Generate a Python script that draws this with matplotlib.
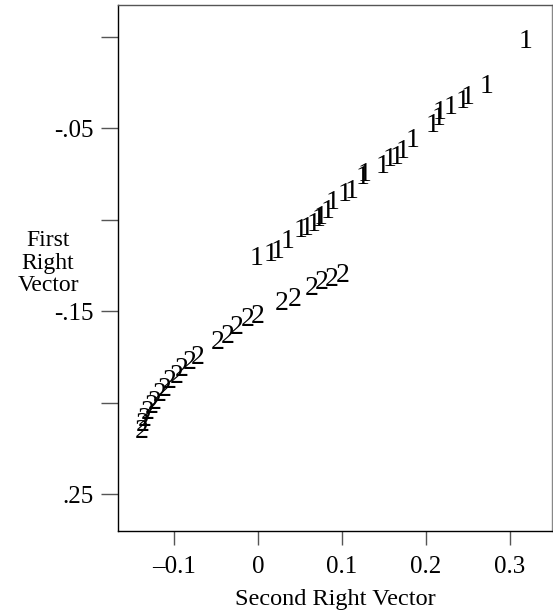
import matplotlib
matplotlib.use("Agg")
import matplotlib.pyplot as plt

plt.rcParams['font.family'] = ['Liberation Serif', 'DejaVu Serif']

# Group 1 points (Second Right Vector, First Right Vector)
g1_x = [-0.0012, 0.0155, 0.0238, 0.0357, 0.0512, 0.0583, 0.0667, 0.0726, 0.0750,
        0.0833, 0.0893, 0.1036, 0.1119, 0.1250, 0.1274, 0.1488, 0.1571, 0.1655,
        0.1726, 0.1845, 0.2083, 0.2155, 0.2167, 0.2298, 0.2440, 0.2500, 0.2726, 0.3190]
g1_y = [-0.1208, -0.1191, -0.1175, -0.1120, -0.1060, -0.1044, -0.1027, -0.1000, -0.0984,
        -0.0956, -0.0902, -0.0863, -0.0847, -0.0770, -0.0754, -0.0705, -0.0672, -0.0656,
        -0.0628, -0.0563, -0.0481, -0.0443, -0.0415, -0.0383, -0.0355, -0.0333, -0.0273, -0.0022]

# Group 2 points
g2_x = [0.1012, 0.0881, 0.0762, 0.0643, 0.0440, 0.0286, 0.0000, -0.0119, -0.0250,
        -0.0357, -0.0476, -0.0714, -0.0810, -0.0905, -0.0964, -0.1048, -0.1107, -0.1167,
        -0.1226, -0.1262, -0.1310, -0.1345, -0.1369, -0.1381]
g2_y = [-0.1301, -0.1328, -0.1344, -0.1372, -0.1437, -0.1454, -0.1530, -0.1546, -0.1590,
        -0.1639, -0.1672, -0.1749, -0.1781, -0.1820, -0.1858, -0.1885, -0.1929, -0.1956,
        -0.1995, -0.2022, -0.2055, -0.2093, -0.2120, -0.2158]

x_ticks = [-0.1, 0.0, 0.1, 0.2, 0.3]
x_ticklabels = ['\u20130.1', '0', '0.1', '0.2', '0.3']
y_ticks = [0.0, -0.05, -0.10, -0.15, -0.20, -0.25]
y_ticklabels = ['', '-.05', '', '-.15', '', '.25']

fig = plt.figure(figsize=(5.53, 6.12), dpi=100)
ax = fig.add_axes([118/553, 1 - 531/612, (552 - 118)/553, (531 - 5)/612])

for x, y in zip(g1_x, g1_y):
    ax.text(x, y, '1', ha='center', va='center', fontsize=20)
for x, y in zip(g2_x, g2_y):
    ax.text(x, y, '2', ha='center', va='center', fontsize=20)

ax.set_xlim(-0.1667, 0.35)
ax.set_ylim(-0.27, 0.0175)
ax.set_xticks(x_ticks)
ax.set_xticklabels(x_ticklabels, fontsize=18)
ax.set_yticks(y_ticks)
ax.set_yticklabels(y_ticklabels, fontsize=18)
ax.tick_params(axis='y', direction='out', length=12.2, width=1, color='#555555', pad=5.5)
ax.tick_params(axis='x', direction='out', length=10, width=1, color='#555555', pad=8)
for s in ax.spines.values():
    s.set_linewidth(1)
ax.spines['right'].set_color('#888888')
ax.spines['top'].set_color('#555555')

ax.set_xlabel('Second Right Vector', fontsize=17.5, labelpad=8)
fig.text(48/553, 1 - 263/612, 'First\nRight\nVector', ha='center', va='center',
         fontsize=17, linespacing=1.1)

fig.savefig('out.png', dpi=100)
